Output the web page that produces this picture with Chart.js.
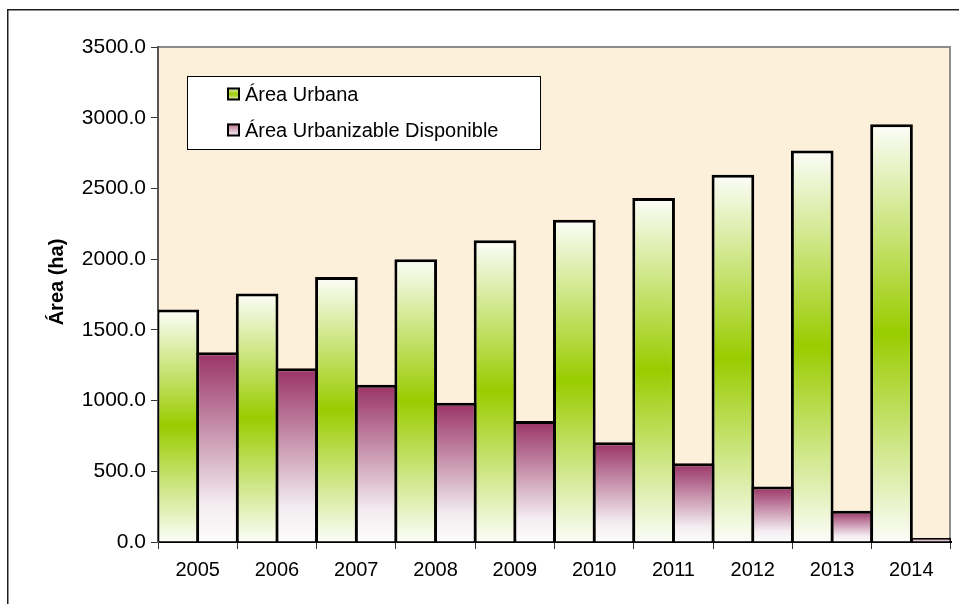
<!DOCTYPE html>
<html>
<head>
<meta charset="utf-8">
<script src="https://cdn.jsdelivr.net/npm/chart.js@4/dist/chart.umd.min.js"></script>
<style>
  html, body { margin: 0; padding: 0; background: #ffffff; }
  #wrap { width: 959px; height: 604px; position: relative; }
</style>
</head>
<body>
<div id="wrap"><canvas id="c" width="959" height="604"></canvas></div>
<script>
// Años del periodo analizado
const years = ['2005', '2006', '2007', '2008', '2009', '2010', '2011', '2012', '2013', '2014'];
// Superficie (ha) por año
const areaUrbana = [1644, 1757, 1874, 1999, 2133, 2279, 2432, 2597, 2768, 2954];
const areaDisponible = [1341, 1228, 1112, 985, 856, 706, 557, 392, 221, 28];
const seriesNames = ['Área Urbana', 'Área Urbanizable Disponible'];
const yAxisTitle = 'Área (ha)';
const yMin = 0, yMax = 3500, yStep = 500;

const FONT = '"Liberation Sans", Arial, sans-serif';
const BAR_BORDER = 3;

// Degradado vertical por barra: blanco - verde - blanco
function greenFill(ctx) {
  const chart = ctx.chart;
  if (!chart.chartArea || !ctx.parsed) return '#99cc00';
  const y = chart.scales.y;
  const top = y.getPixelForValue(ctx.parsed.y);
  const base = y.getPixelForValue(0);
  const g = chart.ctx.createLinearGradient(0, top, 0, base);
  g.addColorStop(0, '#fcfdf9');
  g.addColorStop(0.5, '#99cc00');
  g.addColorStop(1, '#fcfdf9');
  return g;
}
// Degradado vertical por barra: morado arriba, casi blanco abajo
function purpleFill(ctx) {
  const chart = ctx.chart;
  if (!chart.chartArea || !ctx.parsed) return '#993366';
  const y = chart.scales.y;
  const top = y.getPixelForValue(ctx.parsed.y);
  const base = y.getPixelForValue(0);
  const g = chart.ctx.createLinearGradient(0, top, 0, base);
  g.addColorStop(0, '#993366');
  g.addColorStop(0.8, '#f3ecf0');
  g.addColorStop(1, '#fdfcfd');
  return g;
}

// Fondo, marco exterior y marco del área de trazado
const framePlugin = {
  id: 'framePlugin',
  beforeDraw(chart) {
    const { ctx, chartArea: a } = chart;
    ctx.save();
    ctx.fillStyle = '#ffffff';
    ctx.fillRect(0, 0, chart.width, chart.height);
    ctx.strokeStyle = '#1e1e1e';
    ctx.lineWidth = 1.5;
    ctx.beginPath();
    ctx.moveTo(7.75, chart.height);
    ctx.lineTo(7.75, 9.75);
    ctx.lineTo(chart.width, 9.75);
    ctx.stroke();
    ctx.fillStyle = '#fdf0db';
    ctx.fillRect(a.left, a.top, a.right - a.left, a.bottom - a.top);
    ctx.strokeStyle = '#8c8c8c';
    ctx.lineWidth = 2;
    ctx.beginPath();
    ctx.moveTo(a.left, a.top);
    ctx.lineTo(a.right - 1, a.top);
    ctx.lineTo(a.right - 1, a.bottom);
    ctx.stroke();
    ctx.restore();
  },
  afterDraw(chart) {
    const { ctx, chartArea: a } = chart;
    ctx.save();
    // Título del eje Y
    ctx.font = 'bold 20px ' + FONT;
    ctx.fillStyle = '#000000';
    ctx.textAlign = 'center';
    ctx.textBaseline = 'middle';
    ctx.translate(57.5, 282);
    ctx.rotate(-Math.PI / 2);
    ctx.fillText(yAxisTitle, 0, 0);
    ctx.restore();

    // Leyenda dentro del área de trazado
    ctx.save();
    const x0 = a.left + 29, y0 = a.top + 29, w = 353, h = 73;
    ctx.fillStyle = '#ffffff';
    ctx.fillRect(x0, y0, w, h);
    ctx.strokeStyle = '#000000';
    ctx.lineWidth = 1;
    ctx.strokeRect(x0 + 0.5, y0 + 0.5, w, h);
    const rows = [y0 + 18, y0 + 54];
    rows.forEach((cy, i) => {
      const mx = x0 + 40, my = cy - 6.5, ms = 13;
      const g = ctx.createLinearGradient(0, my, 0, my + ms);
      if (i === 0) {
        g.addColorStop(0, '#eef5dc');
        g.addColorStop(0.5, '#99cc00');
        g.addColorStop(1, '#eef5dc');
      } else {
        g.addColorStop(0, '#b8708f');
        g.addColorStop(1, '#fbf7f9');
      }
      ctx.fillStyle = g;
      ctx.fillRect(mx, my, ms, ms);
      ctx.lineWidth = 2;
      ctx.strokeStyle = '#000000';
      ctx.strokeRect(mx + 1, my + 1, ms - 2, ms - 2);
      ctx.font = '20px ' + FONT;
      ctx.fillStyle = '#000000';
      ctx.textAlign = 'left';
      ctx.textBaseline = 'middle';
      ctx.fillText(seriesNames[i], x0 + 58, cy + 1);
    });
    ctx.restore();
  }
};

new Chart(document.getElementById('c'), {
  type: 'bar',
  data: {
    labels: years,
    datasets: [
      {
        label: seriesNames[0],
        data: areaUrbana,
        backgroundColor: greenFill,
        borderColor: '#000000',
        borderWidth: BAR_BORDER,
        borderSkipped: 'start'
      },
      {
        label: seriesNames[1],
        data: areaDisponible,
        backgroundColor: purpleFill,
        borderColor: '#000000',
        borderWidth: BAR_BORDER,
        borderSkipped: 'start'
      }
    ]
  },
  options: {
    responsive: false,
    animation: false,
    devicePixelRatio: 1,
    datasets: {
      // las barras vecinas se solapan lo justo para compartir el borde
      bar: { categoryPercentage: 1, barPercentage: 1.076 }
    },
    layout: { padding: { top: 47, right: 8, bottom: 20, left: 0 } },
    plugins: {
      legend: { display: false },
      tooltip: { enabled: false },
      title: { display: false }
    },
    scales: {
      x: {
        offset: true,
        grid: {
          offset: true,
          drawOnChartArea: false,
          drawTicks: true,
          tickLength: 7,
          color: '#333333',
          lineWidth: 1
        },
        border: { display: true, color: '#000000', width: 2 },
        ticks: {
          color: '#000000',
          font: { family: FONT, size: 20 },
          padding: 9,
          maxRotation: 0,
          autoSkip: false
        },
        afterFit(scale) { scale.height = 42; }
      },
      y: {
        min: yMin,
        max: yMax,
        grid: {
          drawOnChartArea: false,
          drawTicks: true,
          tickLength: 7,
          color: '#333333',
          lineWidth: 1
        },
        border: { display: true, color: '#555555', width: 2 },
        ticks: {
          stepSize: yStep,
          color: '#000000',
          font: { family: FONT, size: 21 },
          padding: 5,
          callback: (v) => Number(v).toFixed(1)
        },
        afterFit(scale) { scale.width = 158; }
      }
    }
  },
  plugins: [framePlugin]
});
</script>
</body>
</html>
